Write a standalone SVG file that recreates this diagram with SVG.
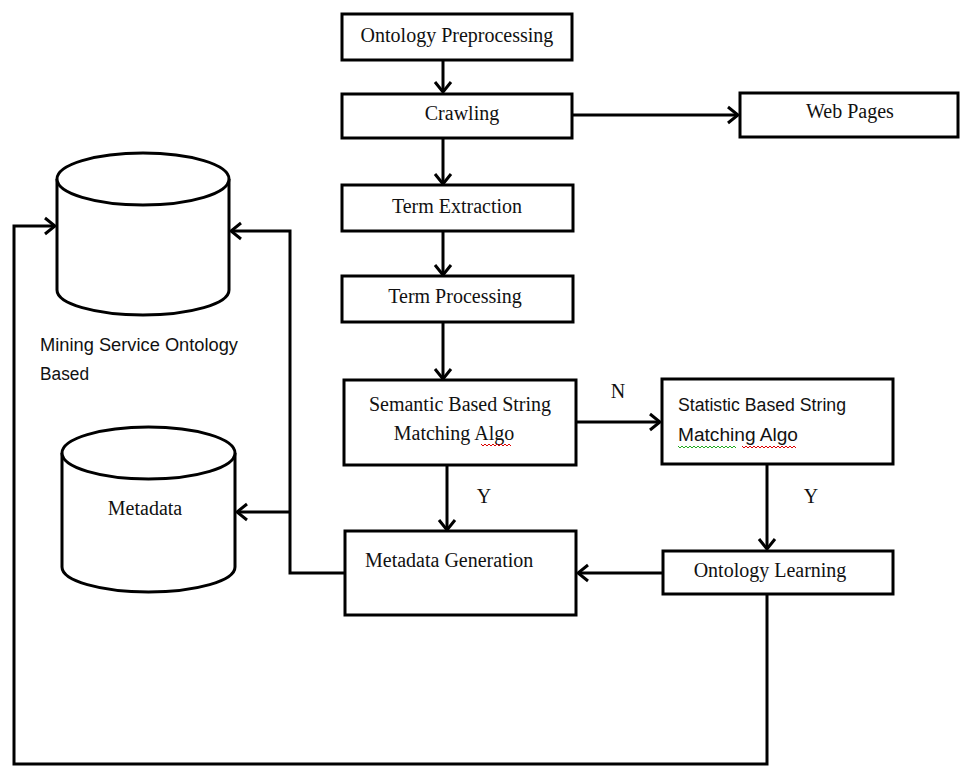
<svg xmlns="http://www.w3.org/2000/svg" width="960" height="767" viewBox="0 0 960 767">
<style>
.box{fill:#fff;stroke:#000;stroke-width:3}
.cyl{fill:#fff;stroke:#000;stroke-width:3}
.t{font-family:"Liberation Serif","Times New Roman",serif;font-size:20px;fill:#111}
.s{font-family:"Liberation Sans",Arial,sans-serif;font-size:18px;fill:#111}
.c{fill:none;stroke:#000;stroke-width:3}
.sq{fill:none;stroke-width:1}
</style>
<defs>
<marker id="arr" viewBox="-12 -10 14 20" markerWidth="14" markerHeight="20" refX="0" refY="0" markerUnits="userSpaceOnUse" orient="auto">
<path d="M-10,-8 L0,0 L-10,8" fill="none" stroke="#000" stroke-width="3"/>
</marker>
</defs>
<rect width="960" height="767" fill="#fff"/>
<g id="connectors">
<path class="c" d="M443,60 V92" marker-end="url(#arr)"/>
<path class="c" d="M572,115 H738" marker-end="url(#arr)"/>
<path class="c" d="M443,138 V184" marker-end="url(#arr)"/>
<path class="c" d="M443,232 V275" marker-end="url(#arr)"/>
<path class="c" d="M443,322 V379" marker-end="url(#arr)"/>
<path class="c" d="M576,422 H660" marker-end="url(#arr)"/>
<path class="c" d="M447,465 V530" marker-end="url(#arr)"/>
<path class="c" d="M767,464 V549" marker-end="url(#arr)"/>
<path class="c" d="M663,573 H578" marker-end="url(#arr)"/>
<path class="c" d="M345,573 H290 V231 H231" marker-end="url(#arr)"/>
<path class="c" d="M290,512 H237" marker-end="url(#arr)"/>
<path class="c" d="M767,594 V764 H14 V226 H55" marker-end="url(#arr)"/>
</g>
<g id="ontology-preprocessing">
<rect class="box" x="342" y="14" width="230" height="46"/>
<text class="t" x="457" y="42" text-anchor="middle">Ontology Preprocessing</text>
</g>
<g id="crawling">
<rect class="box" x="342" y="94" width="230" height="44"/>
<text class="t" x="462" y="120" text-anchor="middle">Crawling</text>
</g>
<g id="web-pages">
<rect class="box" x="740" y="93" width="218" height="44"/>
<text class="t" x="850" y="118" text-anchor="middle">Web Pages</text>
</g>
<g id="term-extraction">
<rect class="box" x="342" y="185" width="231" height="46"/>
<text class="t" x="457" y="213" text-anchor="middle">Term Extraction</text>
</g>
<g id="term-processing">
<rect class="box" x="342" y="276" width="231" height="46"/>
<text class="t" x="455" y="303" text-anchor="middle">Term Processing</text>
</g>
<g id="semantic-matching">
<rect class="box" x="344" y="380" width="232" height="85"/>
<text class="t" x="460" y="411" text-anchor="middle">Semantic Based String</text>
<text class="t" x="454" y="440" text-anchor="middle">Matching Algo</text>
<path class="sq" stroke="#d00" d="M481,444 l2,2 l2,-2 l2,2 l2,-2 l2,2 l2,-2 l2,2 l2,-2 l2,2 l2,-2 l2,2 l2,-2 l2,2 l2,-2 l2,2"/>
</g>
<g id="statistic-matching">
<rect class="box" x="662" y="379" width="231" height="85"/>
<text class="s" x="678" y="411" textLength="168" lengthAdjust="spacingAndGlyphs">Statistic Based String</text>
<text class="s" x="678" y="441" textLength="120" lengthAdjust="spacingAndGlyphs">Matching Algo</text>
<path class="sq" stroke="#2a2" d="M678,446 l2,2 l2,-2 l2,2 l2,-2 l2,2 l2,-2 l2,2 l2,-2 l2,2 l2,-2 l2,2 l2,-2 l2,2 l2,-2 l2,2 l2,-2 l2,2 l2,-2 l2,2 l2,-2 l2,2 l2,-2 l2,2 l2,-2 l2,2 l2,-2 l2,2 l2,-2 l2,2"/>
<path class="sq" stroke="#d00" d="M742,446 l2,2 l2,-2 l2,2 l2,-2 l2,2 l2,-2 l2,2 l2,-2 l2,2 l2,-2 l2,2 l2,-2 l2,2 l2,-2 l2,2 l2,-2 l2,2 l2,-2 l2,2 l2,-2 l2,2 l2,-2 l2,2 l2,-2 l2,2 l2,-2 l2,2"/>
</g>
<g id="metadata-generation">
<rect class="box" x="345" y="531" width="231" height="84"/>
<text class="t" x="365" y="567">Metadata Generation</text>
</g>
<g id="ontology-learning">
<rect class="box" x="663" y="551" width="230" height="43"/>
<text class="t" x="770" y="577" text-anchor="middle">Ontology Learning</text>
</g>
<g id="labels">
<text class="t" x="618" y="398" text-anchor="middle">N</text>
<text class="t" x="484" y="503" text-anchor="middle">Y</text>
<text class="t" x="811" y="503" text-anchor="middle">Y</text>
</g>
<g id="mining-service-ontology">
<path class="cyl" d="M57,179 V290 A86,25 0 0 0 229,290 V179"/>
<ellipse class="cyl" cx="143" cy="179" rx="86" ry="26"/>
<text class="s" x="40" y="351" textLength="198" lengthAdjust="spacingAndGlyphs">Mining Service Ontology</text>
<text class="s" x="40" y="380" textLength="49" lengthAdjust="spacingAndGlyphs">Based</text>
</g>
<g id="metadata">
<path class="cyl" d="M62,453 V567 A86.5,25 0 0 0 235,567 V453"/>
<ellipse class="cyl" cx="148.5" cy="453" rx="86.5" ry="26"/>
<text class="t" x="145" y="515" text-anchor="middle">Metadata</text>
</g>
</svg>
